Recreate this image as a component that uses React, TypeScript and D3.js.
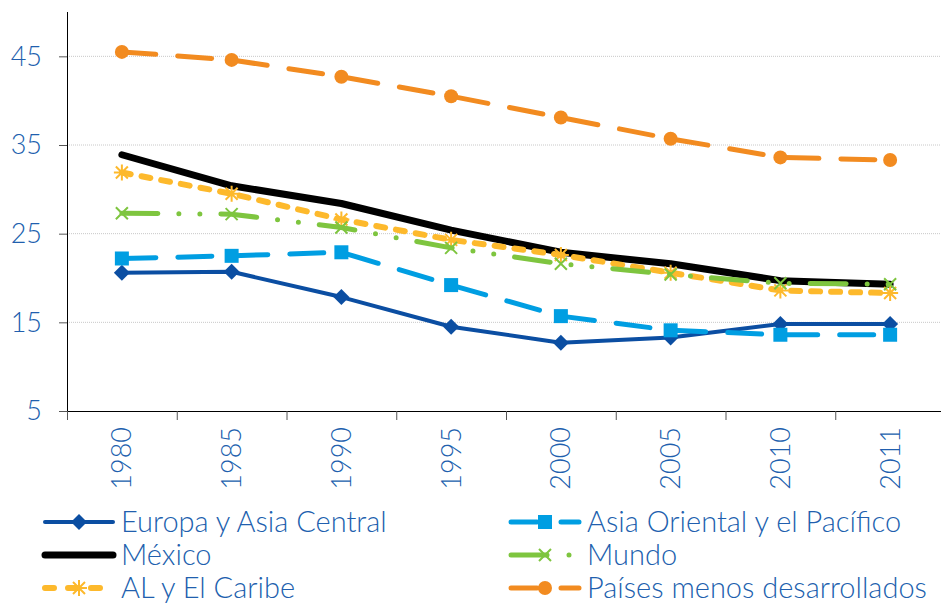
import { useEffect, useRef } from 'react';
import * as d3 from 'd3';

const years = ['1980', '1985', '1990', '1995', '2000', '2005', '2010', '2011'];
const yTicks = [5, 15, 25, 35, 45];

const europaAsiaCentral = [20.6, 20.7, 17.85, 14.5, 12.7, 13.3, 14.8, 14.8];
const asiaOriental = [22.2, 22.5, 22.9, 19.2, 15.7, 14.1, 13.6, 13.6];
const mexico = [33.9, 30.4, 28.4, 25.4, 22.9, 21.6, 19.7, 19.3];
const mundo = [27.3, 27.2, 25.7, 23.4, 21.6, 20.4, 19.4, 19.3];
const alCaribe = [31.9, 29.5, 26.6, 24.3, 22.6, 20.6, 18.6, 18.3];
const paisesMenos = [45.5, 44.6, 42.7, 40.5, 38.1, 35.7, 33.6, 33.3];

type Marker = 'diamond' | 'square' | 'none' | 'x' | 'asterisk' | 'circle';

const series: { name: string; values: number[]; color: string; width: number; dash: string | null; legendDash: string | null; marker: Marker }[] = [
  { name: 'Europa y Asia Central', values: europaAsiaCentral, color: '#0b4ea2', width: 4, dash: null, legendDash: null, marker: 'diamond' },
  { name: 'Asia Oriental y el Pacífico', values: asiaOriental, color: '#009ee2', width: 5, dash: '34,22', legendDash: '26,24', marker: 'square' },
  { name: 'México', values: mexico, color: '#000000', width: 7, dash: null, legendDash: null, marker: 'none' },
  { name: 'Mundo', values: mundo, color: '#7ec53f', width: 5, dash: '36,21,0,21,0,21', legendDash: '36,22,0,30', marker: 'x' },
  { name: 'AL y El Caribe', values: alCaribe, color: '#fdb92c', width: 6, dash: '9,11', legendDash: '9,14', marker: 'asterisk' },
  { name: 'Países menos desarrollados', values: paisesMenos, color: '#f28b20', width: 5, dash: '34,22', legendDash: '26,24', marker: 'circle' },
];

// draw order: back to front
const drawOrder = [5, 0, 1, 2, 4, 3];

const TEXT = '#215fae';
const FONT = 'Lato, "Open Sans", sans-serif';

function drawMarker(g: d3.Selection<SVGGElement, unknown, null, undefined>, kind: Marker, x: number, y: number, color: string) {
  if (kind === 'diamond') {
    g.append('path').attr('d', `M${x},${y - 8}L${x + 8},${y}L${x},${y + 8}L${x - 8},${y}Z`).attr('fill', color);
  } else if (kind === 'square') {
    g.append('rect').attr('x', x - 7).attr('y', y - 7).attr('width', 14).attr('height', 14).attr('fill', color);
  } else if (kind === 'circle') {
    g.append('circle').attr('cx', x).attr('cy', y).attr('r', 7).attr('fill', color);
  } else if (kind === 'x') {
    g.append('path')
      .attr('d', `M${x - 6},${y - 6}L${x + 6},${y + 6}M${x - 6},${y + 6}L${x + 6},${y - 6}`)
      .attr('stroke', color).attr('stroke-width', 2).attr('fill', 'none');
  } else if (kind === 'asterisk') {
    g.append('path')
      .attr('d', `M${x - 6},${y - 6}L${x + 6},${y + 6}M${x - 6},${y + 6}L${x + 6},${y - 6}M${x},${y - 8}L${x},${y + 8}M${x - 8},${y}L${x + 8},${y}`)
      .attr('stroke', color).attr('stroke-width', 2).attr('fill', 'none');
  }
}

export default function App() {
  const svgRef = useRef<SVGSVGElement>(null);

  useEffect(() => {
    if (!svgRef.current) return;
    const svg = d3.select(svgRef.current);
    svg.selectAll('*').remove();

    const x = d3.scaleBand<string>().domain(years).range([67, 945]);
    const y = d3.scaleLinear().domain([5, 50]).range([411, 12]);
    const root = svg.append('g');

    // grid
    root.append('g')
      .selectAll('line')
      .data(yTicks.slice(1))
      .join('line')
      .attr('x1', 67).attr('x2', 941)
      .attr('y1', d => y(d)).attr('y2', d => y(d))
      .attr('stroke', '#c8c8c8').attr('stroke-width', 1).attr('stroke-dasharray', '1,1');

    // y axis
    root.append('line').attr('x1', 67.5).attr('x2', 67.5).attr('y1', y(50)).attr('y2', y(5))
      .attr('stroke', '#000').attr('stroke-width', 1);
    root.append('g').selectAll('line').data(yTicks).join('line')
      .attr('x1', 59).attr('x2', 67).attr('y1', d => y(d) + 0.5).attr('y2', d => y(d) + 0.5)
      .attr('stroke', '#555');
    root.append('g').selectAll('text').data(yTicks).join('text')
      .attr('x', 42).attr('y', d => y(d)).attr('dy', '0.35em')
      .attr('text-anchor', 'end')
      .attr('fill', TEXT).attr('font-family', FONT).attr('font-weight', 300).attr('font-size', 27)
      .text(d => d);

    // x axis
    root.append('line').attr('x1', 67).attr('x2', 941).attr('y1', 411.5).attr('y2', 411.5)
      .attr('stroke', '#000').attr('stroke-width', 1.2);
    root.append('g').selectAll('line').data(years).join('line')
      .attr('x1', d => x(d)! + 0.5).attr('x2', d => x(d)! + 0.5).attr('y1', 411).attr('y2', 420)
      .attr('stroke', '#555');
    root.append('g').selectAll('text').data(years).join('text')
      .attr('transform', d => `translate(${x(d)! + x.bandwidth() / 2},427) rotate(-90)`)
      .attr('dy', '0.35em')
      .attr('text-anchor', 'end')
      .attr('fill', TEXT).attr('font-family', FONT).attr('font-weight', 300).attr('font-size', 27)
      .text(d => d);

    // lines
    const line = d3.line<number>()
      .x((_, i) => x(years[i])! + x.bandwidth() / 2)
      .y(d => y(d));

    drawOrder.forEach(idx => {
      const s = series[idx];
      const g = root.append('g');
      const p = g.append('path')
        .attr('d', line(s.values))
        .attr('fill', 'none')
        .attr('stroke', s.color)
        .attr('stroke-width', s.width)
        .attr('stroke-linecap', 'round')
        .attr('stroke-linejoin', 'round');
      if (s.dash) p.attr('stroke-dasharray', s.dash);
      s.values.forEach((v, i) => drawMarker(g, s.marker, x(years[i])! + x.bandwidth() / 2, y(v), s.color));
    });

    // legend
    const legendCols = [43, 509];
    const legendRows = [522, 555, 588];
    series.forEach((s, i) => {
      const lx = legendCols[i % 2];
      const ly = legendRows[Math.floor(i / 2)];
      const g = root.append('g');
      const p = g.append('path')
        .attr('d', `M${lx + 2},${ly}L${lx + 70},${ly}`)
        .attr('fill', 'none')
        .attr('stroke', s.color)
        .attr('stroke-width', s.width)
        .attr('stroke-linecap', 'round');
      if (s.legendDash) p.attr('stroke-dasharray', s.legendDash);
      drawMarker(g, s.marker, lx + 36, ly, s.color);
      g.append('text')
        .attr('x', lx + 78).attr('y', ly).attr('dy', '0.35em')
        .attr('fill', TEXT).attr('font-family', FONT).attr('font-weight', 300).attr('font-size', 29)
        .text(s.name);
    });
  }, []);

  return (
    <svg
      ref={svgRef}
      width={941}
      height={603}
      style={{ position: 'absolute', left: 0, top: 0, background: '#fff' }}
    />
  );
}
